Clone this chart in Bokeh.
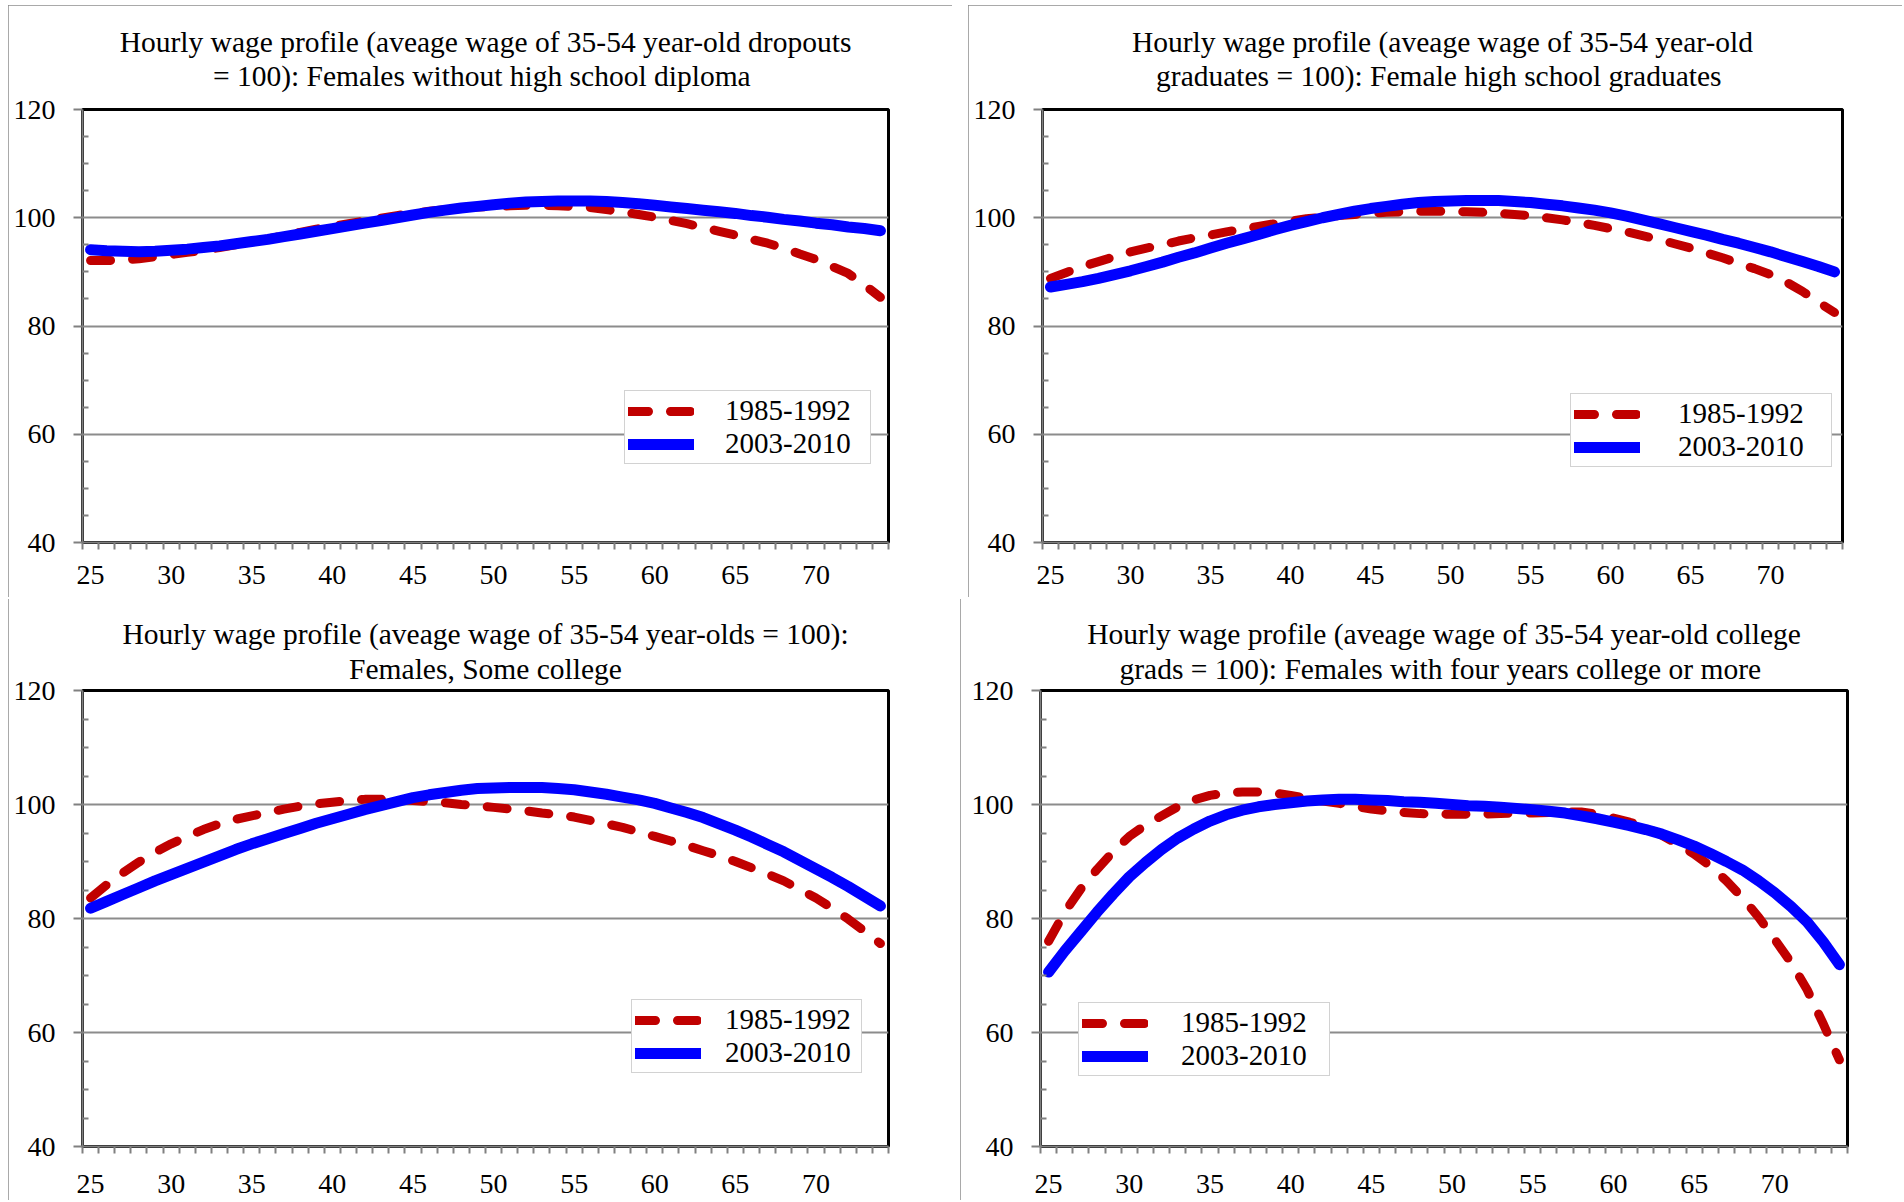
from bokeh.plotting import figure
from bokeh.models import Range1d, FixedTicker, Legend, LegendItem, Title, Spacer
from bokeh.layouts import row, column
from bokeh.embed import file_html
from bokeh.resources import INLINE

# ---------------- data ----------------
ages = list(range(25, 75))
x_tick_labels = [25, 30, 35, 40, 45, 50, 55, 60, 65, 70]
y_ticks = [40, 60, 80, 100, 120]
y_minor = [45, 50, 55, 65, 70, 75, 85, 90, 95, 105, 110, 115]
series_labels = ["1985-1992", "2003-2010"]

titles = [
    ("Hourly wage profile (aveage wage of 35-54 year-old dropouts",
     "= 100):  Females without high school diploma"),
    ("Hourly wage profile (aveage wage of 35-54 year-old",
     "graduates = 100):  Female high school graduates"),
    ("Hourly wage profile (aveage wage of 35-54 year-olds = 100):",
     "Females, Some college"),
    ("Hourly wage profile (aveage wage of 35-54 year-old college",
     "grads = 100):  Females with four years college or more"),
]

dropouts_1985 = [92.1, 92.1, 92.2, 92.4, 92.8, 93.2, 93.6, 94.0, 94.5, 95.0,
                 95.5, 96.1, 96.7, 97.3, 97.9, 98.4, 98.9, 99.4, 99.9, 100.4,
                 100.8, 101.2, 101.5, 101.8, 102.0, 102.1, 102.2, 102.3, 102.3, 102.2,
                 102.1, 101.9, 101.5, 101.1, 100.6, 100.1, 99.5, 98.9, 98.2, 97.5,
                 96.8, 96.0, 95.3, 94.4, 93.3, 92.3, 91.0, 89.7, 87.6, 85.3]
dropouts_2003 = [94.1, 93.9, 93.8, 93.7, 93.8, 94.0, 94.2, 94.5, 94.8, 95.2,
                 95.6, 96.0, 96.5, 97.0, 97.5, 98.0, 98.5, 99.0, 99.5, 100.0,
                 100.5, 101.0, 101.4, 101.8, 102.1, 102.4, 102.7, 102.9, 103.0, 103.1,
                 103.1, 103.1, 103.0, 102.8, 102.6, 102.3, 102.0, 101.7, 101.4, 101.1,
                 100.8, 100.4, 100.1, 99.7, 99.4, 99.0, 98.7, 98.3, 98.0, 97.6]

hsgrad_1985 = [88.8, 89.9, 91.0, 91.9, 92.8, 93.7, 94.4, 95.0, 95.7, 96.3,
               96.8, 97.4, 97.9, 98.4, 98.9, 99.4, 99.8, 100.1, 100.4, 100.6,
               100.8, 101.0, 101.1, 101.2, 101.2, 101.2, 101.1, 101.0, 100.8, 100.6,
               100.4, 100.0, 99.6, 99.1, 98.6, 98.0, 97.4, 96.7, 96.0, 95.2,
               94.4, 93.5, 92.6, 91.6, 90.6, 89.5, 88.1, 86.4, 84.4, 82.5]
hsgrad_2003 = [87.2, 87.7, 88.2, 88.8, 89.5, 90.2, 91.0, 91.8, 92.7, 93.5,
               94.4, 95.3, 96.1, 96.9, 97.8, 98.6, 99.3, 100.0, 100.6, 101.2,
               101.7, 102.1, 102.5, 102.8, 103.0, 103.1, 103.2, 103.2, 103.2, 103.0,
               102.8, 102.5, 102.2, 101.8, 101.4, 100.9, 100.3, 99.6, 98.9, 98.2,
               97.5, 96.8, 96.0, 95.3, 94.5, 93.7, 92.8, 91.9, 91.0, 90.0]

somecol_1985 = [83.6, 85.9, 88.0, 89.9, 91.6, 93.1, 94.4, 95.6, 96.6, 97.4,
                98.0, 98.6, 99.2, 99.7, 100.1, 100.4, 100.7, 100.9, 100.9, 100.9,
                100.7, 100.5, 100.3, 100.0, 99.8, 99.5, 99.2, 98.9, 98.5, 98.2,
                97.8, 97.2, 96.6, 96.0, 95.2, 94.4, 93.6, 92.8, 91.9, 91.0,
                90.0, 88.9, 87.8, 86.6, 85.1, 83.6, 81.8, 79.9, 77.8, 75.6]
somecol_2003 = [81.8, 83.0, 84.2, 85.4, 86.6, 87.7, 88.8, 89.9, 91.0, 92.1,
                93.1, 94.0, 94.9, 95.8, 96.7, 97.5, 98.3, 99.1, 99.8, 100.5,
                101.2, 101.7, 102.1, 102.5, 102.8, 102.9, 103.0, 103.0, 103.0, 102.8,
                102.6, 102.2, 101.8, 101.3, 100.8, 100.2, 99.4, 98.6, 97.7, 96.6,
                95.5, 94.3, 93.0, 91.7, 90.2, 88.7, 87.2, 85.6, 83.9, 82.2]

college_1985 = [76.0, 81.1, 85.2, 88.6, 91.7, 94.4, 96.4, 98.0, 99.6, 100.8,
                101.6, 102.0, 102.2, 102.2, 102.0, 101.6, 101.1, 100.6, 100.2, 99.7,
                99.2, 98.9, 98.6, 98.4, 98.3, 98.3, 98.3, 98.3, 98.4, 98.5,
                98.5, 98.6, 98.7, 98.7, 98.3, 97.6, 96.9, 96.0, 94.6, 93.0,
                91.3, 89.2, 86.6, 83.6, 80.2, 76.3, 72.3, 67.5, 61.5, 55.2]
college_2003 = [70.6, 74.3, 77.7, 81.1, 84.3, 87.3, 89.8, 92.1, 94.1, 95.7,
                97.1, 98.2, 99.0, 99.6, 100.0, 100.3, 100.6, 100.8, 100.9, 100.9,
                100.8, 100.7, 100.5, 100.4, 100.2, 100.0, 99.8, 99.7, 99.5, 99.3,
                99.1, 98.8, 98.5, 98.0, 97.5, 96.9, 96.3, 95.6, 94.8, 93.8,
                92.7, 91.4, 90.0, 88.5, 86.6, 84.5, 82.1, 79.4, 75.9, 71.9]

panel_data = [
    (dropouts_1985, dropouts_2003),
    (hsgrad_1985, hsgrad_2003),
    (somecol_1985, somecol_2003),
    (college_1985, college_2003),
]

# ---------------- style ----------------
FONT = "Liberation Serif"
RED = "#C00000"
BLUE = "#0000FF"
AXIS_GRAY = "#808080"


def make_panel(idx, width, height, mb_left, mb_right, mb_top, mb_bottom,
               title_standoffs, title_offset, x_standoff, legend_loc,
               legend_standoff, legend_label_width, bottom_row):
    red_vals, blue_vals = panel_data[idx]
    t1, t2 = titles[idx]
    p = figure(width=width, height=height, output_backend="svg",
               toolbar_location=None, title=None,
               x_range=Range1d(24.5, 74.5), y_range=Range1d(40, 120),
               min_border_left=mb_left, min_border_right=mb_right,
               min_border_top=mb_top, min_border_bottom=mb_bottom)
    st = {"outline": "2px solid #8c8c8c", "outline-offset": "-2px"}
    if bottom_row:
        st["clip-path"] = "inset(2px 0px 2px 0px)"
    p.styles = st
    p.background_fill_color = "white"
    p.border_fill_color = "white"
    p.outline_line_color = "black"
    p.outline_line_width = 3

    # titles (line 2 nearest the frame, line 1 above it)
    s1, s2 = title_standoffs
    for txt, s in ((t2, s2), (t1, s1)):
        p.add_layout(Title(text=txt, text_font=FONT, text_font_size="29.5px",
                           text_font_style="normal", text_color="black",
                           align="center", offset=title_offset, standoff=s), "above")

    # x axis
    xa = p.below[0]
    xa.ticker = FixedTicker(ticks=x_tick_labels,
                            minor_ticks=[a - 0.5 for a in ages] + [ages[-1] + 0.5])
    xa.axis_line_color = AXIS_GRAY
    xa.axis_line_width = 2
    xa.major_tick_line_color = None
    xa.major_tick_in = 0
    xa.major_tick_out = 0
    xa.minor_tick_line_color = AXIS_GRAY
    xa.minor_tick_line_width = 2
    xa.minor_tick_in = 0
    xa.minor_tick_out = 7
    xa.major_label_text_font = FONT
    xa.major_label_text_font_size = "28px"
    xa.major_label_text_color = "black"
    xa.major_label_standoff = x_standoff
    xa.axis_label_standoff = 0

    # y axis
    ya = p.left[0]
    ya.ticker = FixedTicker(ticks=y_ticks, minor_ticks=y_minor)
    ya.axis_line_color = AXIS_GRAY
    ya.axis_line_width = 2
    ya.major_tick_line_color = AXIS_GRAY
    ya.major_tick_line_width = 2
    ya.major_tick_in = 0
    ya.major_tick_out = 9
    ya.minor_tick_line_color = AXIS_GRAY
    ya.minor_tick_line_width = 2
    ya.minor_tick_in = 6
    ya.minor_tick_out = 0
    ya.major_label_text_font = FONT
    ya.major_label_text_font_size = "28px"
    ya.major_label_text_color = "black"
    ya.major_label_standoff = 18
    ya.axis_label_standoff = 0

    p.xgrid.grid_line_color = None
    p.ygrid.grid_line_color = "#8c8c8c"
    p.ygrid.grid_line_width = 2

    r_red = p.line(ages, red_vals, line_color=RED, line_width=9,
                   line_dash="20 22", line_cap="round", line_join="round")
    r_blue = p.line(ages, blue_vals, line_color=BLUE, line_width=11,
                    line_cap="round", line_join="round")

    legend = Legend(items=[LegendItem(label=series_labels[0], renderers=[r_red]),
                           LegendItem(label=series_labels[1], renderers=[r_blue])],
                    location=legend_loc, orientation="vertical", margin=0,
                    padding=3, spacing=0, glyph_width=66, glyph_height=20,
                    label_standoff=legend_standoff + 2, label_width=legend_label_width + 2,
                    label_text_font=FONT, label_text_font_size="29px",
                    label_text_color="black",
                    border_line_color="#a6a6a6", border_line_width=1.5,
                    background_fill_color="white", background_fill_alpha=1.0)
    p.add_layout(legend, "center")
    return p


p1 = make_panel(0, 944, 592, 74, 64, 104, 55, (-34.2, 35), -5, 16, (542, 78), 29, 140, False)
p2 = make_panel(1, 934, 592, 74, 60, 104, 55, (-34.2, 35), -6, 16, (528, 75), 36, 148, False)
p3 = make_panel(2, 944, 605, 74, 64, 93, 56, (-11.2, 12), -6, 21, (549, 73), 22, 131, True)
p4 = make_panel(3, 942, 605, 80, 55, 93, 55, (-11.2, 12), -11, 21, (38, 70), 31, 143, True)

layout = column(
    Spacer(width=1, height=5),
    row(Spacer(width=8, height=1), p1, Spacer(width=16, height=1), p2, spacing=0),
    row(Spacer(width=8, height=1), p3, Spacer(width=8, height=1), p4, spacing=0),
    spacing=0,
)

open("out.html", "w").write(file_html(layout, INLINE))
